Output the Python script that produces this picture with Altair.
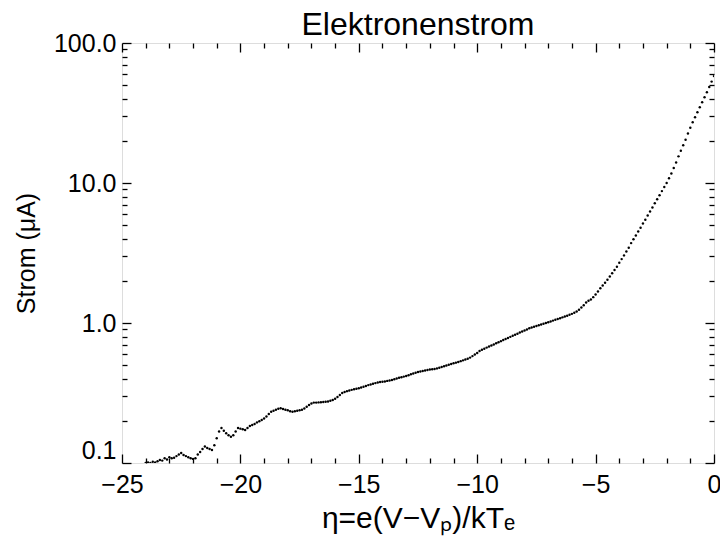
import altair as alt
import pandas as pd

# sampled eta positions (probe bias in units of kTe)
eta = [
    -24.0, -23.9, -23.8, -23.7, -23.6, -23.5, -23.4, -23.3, -23.2, -23.1,
    -23.0, -22.9, -22.8, -22.7, -22.6, -22.5, -22.4, -22.3, -22.2, -22.1,
    -22.0, -21.9, -21.8, -21.7, -21.6, -21.5, -21.4, -21.3, -21.2, -21.1,
    -21.0, -20.9, -20.8, -20.7, -20.6, -20.5, -20.4, -20.3, -20.2, -20.1,
    -20.0, -19.9, -19.8, -19.7, -19.6, -19.5, -19.4, -19.3, -19.2, -19.1,
    -19.0, -18.9, -18.8, -18.7, -18.6, -18.5, -18.4, -18.3, -18.2, -18.1,
    -18.0, -17.9, -17.8, -17.7, -17.6, -17.5, -17.4, -17.3, -17.2, -17.1,
    -17.0, -16.9, -16.8, -16.7, -16.6, -16.5, -16.4, -16.3, -16.2, -16.1,
    -16.0, -15.9, -15.8, -15.7, -15.6, -15.5, -15.4, -15.3, -15.2, -15.1,
    -15.0, -14.9, -14.8, -14.7, -14.6, -14.5, -14.4, -14.3, -14.2, -14.1,
    -14.0, -13.9, -13.8, -13.7, -13.6, -13.5, -13.4, -13.3, -13.2, -13.1,
    -13.0, -12.9, -12.8, -12.7, -12.6, -12.5, -12.4, -12.3, -12.2, -12.1,
    -12.0, -11.9, -11.8, -11.7, -11.6, -11.5, -11.4, -11.3, -11.2, -11.1,
    -11.0, -10.9, -10.8, -10.7, -10.6, -10.5, -10.4, -10.3, -10.2, -10.1,
    -10.0, -9.9, -9.8, -9.7, -9.6, -9.5, -9.4, -9.3, -9.2, -9.1,
    -9.0, -8.9, -8.8, -8.7, -8.6, -8.5, -8.4, -8.3, -8.2, -8.1,
    -8.0, -7.9, -7.8, -7.7, -7.6, -7.5, -7.4, -7.3, -7.2, -7.1,
    -7.0, -6.9, -6.8, -6.7, -6.6, -6.5, -6.4, -6.3, -6.2, -6.1,
    -6.0, -5.9, -5.8, -5.7, -5.6, -5.5, -5.4, -5.3, -5.2, -5.1,
    -5.0, -4.9, -4.8, -4.7, -4.6, -4.5, -4.4, -4.3, -4.2, -4.1,
    -4.0, -3.9, -3.8, -3.7, -3.6, -3.5, -3.4, -3.3, -3.2, -3.1,
    -3.0, -2.9, -2.8, -2.7, -2.6, -2.5, -2.4, -2.3, -2.2, -2.1,
    -2.0, -1.9, -1.8, -1.7, -1.6, -1.5, -1.4, -1.3, -1.2, -1.1,
    -1.0, -0.9, -0.8, -0.7, -0.6, -0.5, -0.4, -0.3, -0.2, -0.1,
    0.0,
]

# electron current in microampere
strom = [
    0.100, 0.101, 0.100, 0.102, 0.101, 0.103, 0.105, 0.104, 0.108, 0.106,
    0.110, 0.108, 0.109, 0.112, 0.115, 0.118, 0.114, 0.112, 0.110, 0.108,
    0.107, 0.108, 0.115, 0.120, 0.126, 0.131, 0.128, 0.126, 0.124, 0.134,
    0.150, 0.168, 0.178, 0.170, 0.163, 0.158, 0.154, 0.158, 0.168, 0.178,
    0.176, 0.174, 0.172, 0.178, 0.184, 0.187, 0.190, 0.195, 0.199, 0.203,
    0.208, 0.215, 0.224, 0.232, 0.236, 0.240, 0.244, 0.246, 0.243, 0.240,
    0.238, 0.234, 0.232, 0.234, 0.236, 0.238, 0.240, 0.245, 0.252, 0.260,
    0.266, 0.270, 0.270, 0.271, 0.272, 0.273, 0.274, 0.275, 0.278, 0.282,
    0.288, 0.296, 0.306, 0.316, 0.322, 0.326, 0.330, 0.333, 0.336, 0.339,
    0.342, 0.346, 0.350, 0.355, 0.360, 0.364, 0.368, 0.372, 0.376, 0.379,
    0.380, 0.382, 0.386, 0.389, 0.392, 0.396, 0.401, 0.406, 0.410, 0.414,
    0.418, 0.424, 0.430, 0.436, 0.441, 0.446, 0.450, 0.454, 0.458, 0.462,
    0.466, 0.468, 0.470, 0.474, 0.479, 0.485, 0.491, 0.497, 0.503, 0.509,
    0.515, 0.521, 0.527, 0.534, 0.541, 0.548, 0.556, 0.566, 0.580, 0.596,
    0.610, 0.630, 0.645, 0.655, 0.667, 0.679, 0.691, 0.703, 0.716, 0.729,
    0.742, 0.755, 0.768, 0.782, 0.796, 0.810, 0.825, 0.839, 0.854, 0.869,
    0.885, 0.900, 0.916, 0.928, 0.940, 0.952, 0.964, 0.976, 0.988, 1.000,
    1.012, 1.026, 1.040, 1.054, 1.068, 1.082, 1.097, 1.112, 1.128, 1.145,
    1.162, 1.185, 1.210, 1.245, 1.290, 1.340, 1.400, 1.440, 1.470, 1.530,
    1.60, 1.68, 1.77, 1.85, 1.94, 2.04, 2.15, 2.27, 2.39, 2.52,
    2.69, 2.86, 3.04, 3.24, 3.45, 3.72, 3.96, 4.22, 4.50, 4.79,
    5.13, 5.47, 5.85, 6.25, 6.68, 7.16, 7.66, 8.18, 8.75, 9.35,
    10.0, 10.8, 11.7, 12.8, 14.0, 15.5, 17.0, 18.6, 20.4, 22.6,
    24.8, 27.2, 29.5, 32.0, 34.8, 37.8, 41.0, 44.5, 48.5, 53.0,
    58.0,
]

x_major = [-25, -20, -15, -10, -5, 0]
x_minor = [-24, -23, -22, -21, -19, -18, -17, -16, -14, -13, -12, -11,
           -9, -8, -7, -6, -4, -3, -2, -1]
y_major = [0.1, 1, 10, 100]
y_minor = [0.2, 0.3, 0.4, 0.5, 0.6, 0.7, 0.8, 0.9,
           2, 3, 4, 5, 6, 7, 8, 9,
           20, 30, 40, 50, 60, 70, 80, 90]

title_text = "Elektronenstrom"
x_title = "η=e(V−Vₚ)/kTₑ"
y_title = "Strom (μA)"

df = pd.DataFrame({"eta": eta, "strom": strom})

FONT = "Liberation Sans"
xs = alt.Scale(domain=[x_major[0], x_major[-1]], nice=False, zero=False)
ys = alt.Scale(type="log", domain=[y_major[0], y_major[-1]], nice=False)

MAJ = 9
MIN = 5


def tick_axis(orient, values, size, **kw):
    return alt.Axis(orient=orient, values=values, tickSize=size, offset=-size,
                    domain=False, grid=False, ticks=True, tickColor="black",
                    tickWidth=1.3, **kw)


base = alt.Chart(df)

points = base.mark_circle(size=6, color="black", opacity=1, clip=True).encode(
    x=alt.X("eta:Q", scale=xs,
            axis=tick_axis("bottom", x_major, MAJ, format="d", labels=True,
                           labelFlush=False, labelPadding=9, labelFontSize=25,
                           labelFont=FONT, labelColor="black",
                           title=x_title, titleFontSize=30, titleFont=FONT,
                           titleFontWeight="normal", titleColor="black",
                           titlePadding=6)),
    y=alt.Y("strom:Q", scale=ys,
            axis=tick_axis("left", y_major, MAJ, format=".1f", labels=True,
                           labelPadding=6, labelFontSize=25, labelFont=FONT,
                           labelColor="black", labelOverlap=False,
                           labelBaseline={"condition": {"test": "datum.value < 0.15",
                                                        "value": "bottom"},
                                          "value": "middle"},
                           title=y_title, titleFontSize=25, titleFont=FONT,
                           titleFontWeight="normal", titleColor="black",
                           titlePadding=14)),
)

minor_bl = base.mark_circle(opacity=0).encode(
    x=alt.X("eta:Q", scale=xs,
            axis=tick_axis("bottom", x_minor, MIN, labels=False, title=None)),
    y=alt.Y("strom:Q", scale=ys,
            axis=tick_axis("left", y_minor, MIN, labels=False, title=None)),
)

major_tr = base.mark_circle(opacity=0).encode(
    x=alt.X("eta:Q", scale=xs,
            axis=tick_axis("top", x_major, MAJ, labels=False, title=None)),
    y=alt.Y("strom:Q", scale=ys,
            axis=tick_axis("right", y_major, MAJ, labels=False, title=None)),
)

minor_tr = base.mark_circle(opacity=0).encode(
    x=alt.X("eta:Q", scale=xs,
            axis=tick_axis("top", x_minor, MIN, labels=False, title=None)),
    y=alt.Y("strom:Q", scale=ys,
            axis=tick_axis("right", y_minor, MIN, labels=False, title=None)),
)

chart = alt.layer(points, minor_bl, major_tr, minor_tr).resolve_axis(
    x="independent", y="independent"
).properties(
    width=592,
    height=420,
    autosize=alt.AutoSizeParams(type="none"),
    padding={"left": 122, "top": 43, "right": 6, "bottom": 86},
    title=alt.TitleParams(title_text, fontSize=32, font=FONT,
                          fontWeight="normal", color="black",
                          anchor="middle", offset=-11),
).configure_view(
    stroke="black", strokeWidth=1.6
).configure(background="white")

chart.save("out.html", embed_options={"renderer": "svg", "actions": False})
